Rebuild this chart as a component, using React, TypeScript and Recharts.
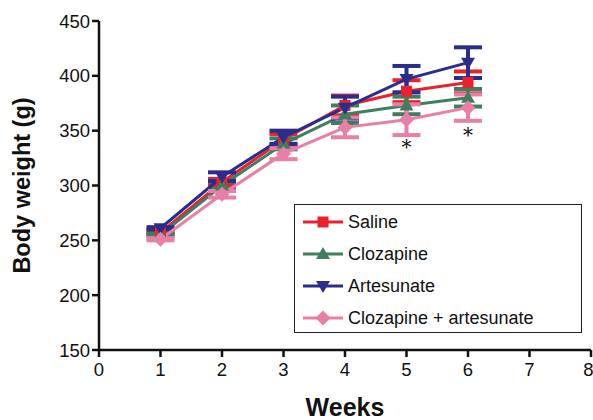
import React from "react";
import {
  ErrorBar,
  LabelList,
  Line,
  LineChart,
  XAxis,
  YAxis,
} from "recharts";

const weeks = [1, 2, 3, 4, 5, 6];
const saline = [257, 303, 342, 373, 386, 394];
const salineErr = [1, 3, 5, 9, 10, 10];
const clozapine = [255, 300, 338, 365, 373, 380];
const clozapineErr = [1, 3, 5, 8, 8, 8];
const artesunate = [261, 308, 344, 371, 397, 412];
const artesunateErr = [1, 4, 6, 10, 12, 14];
const combo = [251, 292, 329, 353, 360, 371];
const comboErr = [1, 3, 5, 9, 14, 12];
const stars = ["", "", "", "", "*", "*"];
const xTicks = [0, 1, 2, 3, 4, 5, 6, 7, 8];
const yTicks = [150, 200, 250, 300, 350, 400, 450];

const data = weeks.map((w, i) => ({
  week: w,
  saline: saline[i],
  salineErr: salineErr[i],
  clozapine: clozapine[i],
  clozapineErr: clozapineErr[i],
  artesunate: artesunate[i],
  artesunateErr: artesunateErr[i],
  combo: combo[i],
  comboErr: comboErr[i],
  star: stars[i],
}));

const RED = "#e8232d";
const GREEN = "#3f7f5e";
const BLUE = "#2b2d8c";
const PINK = "#e97fa6";
const FONT = "Liberation Sans, Arial, sans-serif";

const Marker = ({ cx, cy, shape, color }: any) => {
  if (cx == null || cy == null) return null;
  if (shape === "square")
    return <rect x={cx - 5.5} y={cy - 5.5} width={11} height={11} fill={color} />;
  if (shape === "up")
    return <polygon points={`${cx},${cy - 7} ${cx + 7},${cy + 5} ${cx - 7},${cy + 5}`} fill={color} />;
  if (shape === "down")
    return <polygon points={`${cx - 7},${cy - 5} ${cx + 7},${cy - 5} ${cx},${cy + 7}`} fill={color} />;
  return <polygon points={`${cx},${cy - 7.5} ${cx + 7.5},${cy} ${cx},${cy + 7.5} ${cx - 7.5},${cy}`} fill={color} />;
};

const series = [
  { key: "saline", name: "Saline", color: RED, shape: "square" },
  { key: "clozapine", name: "Clozapine", color: GREEN, shape: "up" },
  { key: "artesunate", name: "Artesunate", color: BLUE, shape: "down" },
  { key: "combo", name: "Clozapine + artesunate", color: PINK, shape: "diamond" },
];

const LegendBox = () => (
  <div
    style={{
      position: "absolute",
      left: 294,
      top: 204,
      width: 288,
      height: 129,
      boxSizing: "border-box",
      border: "1.5px solid #222",
      background: "#fff",
      padding: "1px 0 0 6px",
      fontFamily: FONT,
      fontSize: 18,
      color: "#111",
    }}
  >
    {series.map((s) => (
      <div key={s.key} style={{ display: "flex", alignItems: "center", height: 32 }}>
        <svg width={44} height={20}>
          <line x1={2} y1={10} x2={42} y2={10} stroke={s.color} strokeWidth={3} />
          <Marker cx={22} cy={10} shape={s.shape} color={s.color} />
        </svg>
        <span style={{ marginLeft: 3 }}>{s.name}</span>
      </div>
    ))}
  </div>
);

const Star = (props: any) => {
  const { x, y, value } = props;
  if (!value) return null;
  return (
    <text x={x} y={y + 34} textAnchor="middle" fontSize={20} fill="#111" fontFamily="DejaVu Serif, serif">
      {value}
    </text>
  );
};

const App = () => {
  return (
    <div style={{ position: "absolute", left: 0, top: 0, width: 593, height: 420, background: "#fff" }}>
      <LineChart
        width={593}
        height={420}
        data={data}
        margin={{ top: 21, right: 2, left: 0, bottom: 0 }}
        style={{ fontFamily: FONT }}
      >
        <XAxis
          dataKey="week"
          type="number"
          domain={[0, 8]}
          ticks={xTicks}
          height={70}
          axisLine={{ stroke: "#111", strokeWidth: 2.5 }}
          tickLine={{ stroke: "#111", strokeWidth: 2.5 }}
          tickSize={7}
          tick={{ fill: "#111", fontSize: 18.5, dy: 4 }}
          label={{
            value: "Weeks",
            position: "insideBottom",
            offset: 4,
            style: { fontWeight: "bold", fontSize: 25, fill: "#111" },
          }}
        />
        <YAxis
          type="number"
          domain={[150, 450]}
          ticks={yTicks}
          width={99}
          axisLine={{ stroke: "#111", strokeWidth: 2.5 }}
          tickLine={{ stroke: "#111", strokeWidth: 2.5 }}
          tickSize={7}
          tick={{ fill: "#111", fontSize: 18.5 }}
          label={{
            value: "Body weight (g)",
            angle: -90,
            position: "insideLeft",
            offset: 22,
            style: { fontWeight: "bold", fontSize: 23.5, fill: "#111", textAnchor: "middle" },
          }}
        />
        {series.map((s) => (
          <Line
            key={s.key}
            dataKey={s.key}
            name={s.name}
            stroke={s.color}
            strokeWidth={3}
            type="linear"
            isAnimationActive={false}
            dot={(p: any) => <Marker key={`${s.key}-${p.index}`} cx={p.cx} cy={p.cy} shape={s.shape} color={s.color} />}
            activeDot={false}
          >
            <ErrorBar dataKey={`${s.key}Err`} width={14} strokeWidth={4} stroke={s.color} direction="y" />
            {s.key === "combo" && <LabelList dataKey="star" content={<Star />} />}
          </Line>
        ))}
      </LineChart>
      <LegendBox />
    </div>
  );
};

export default App;
